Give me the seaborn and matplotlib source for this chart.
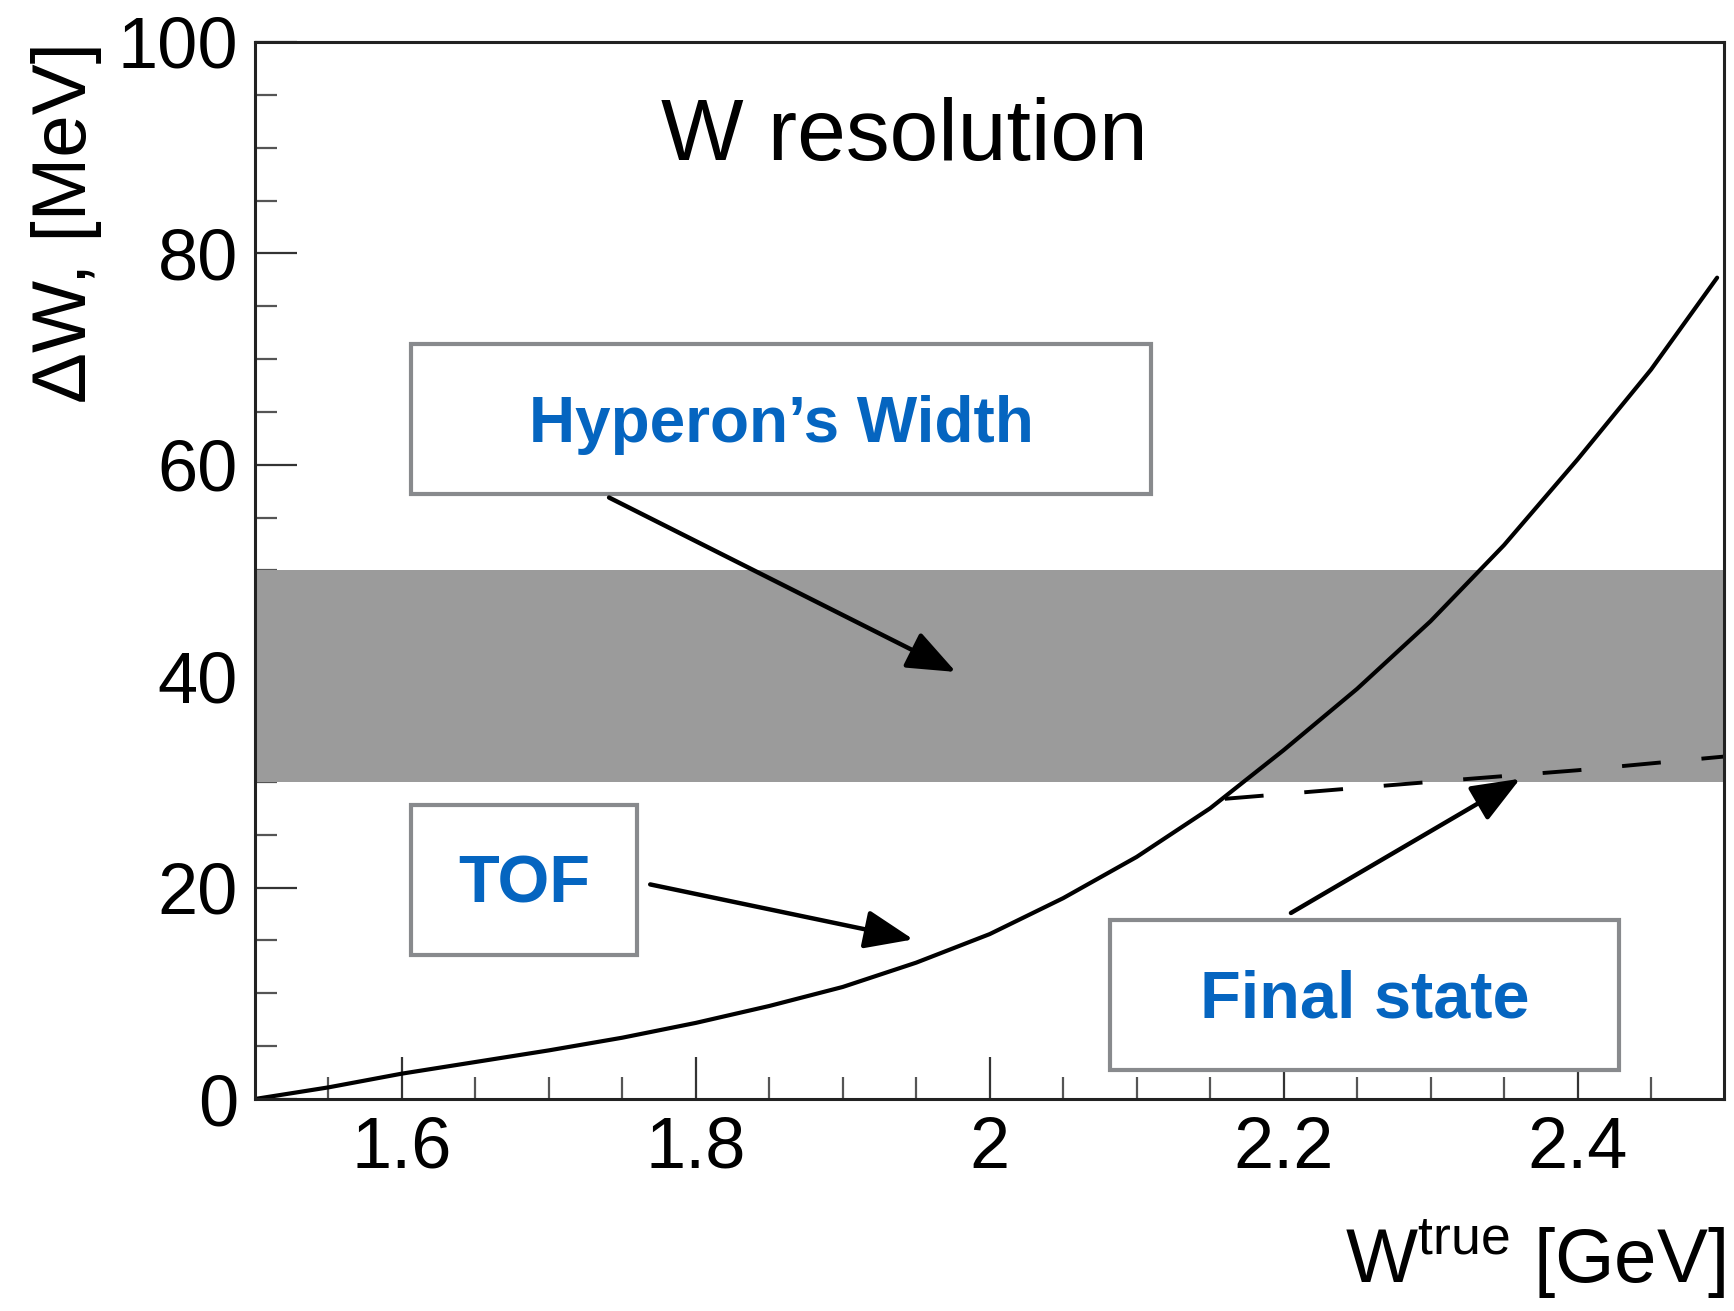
import numpy as np
import pandas as pd
import matplotlib
matplotlib.use("Agg")
import matplotlib.pyplot as plt
import seaborn as sns

# TOF resolution curve
w_tof = [1.5, 1.55, 1.6, 1.65, 1.7, 1.75, 1.8, 1.85, 1.9, 1.95, 2.0,
         2.05, 2.1, 2.15, 2.2, 2.25, 2.3, 2.35, 2.4, 2.45, 2.495]
dw_tof = [0.0, 1.1, 2.4, 3.5, 4.6, 5.8, 7.2, 8.8, 10.6, 12.9, 15.6,
          19.0, 22.9, 27.5, 33.0, 38.8, 45.2, 52.4, 60.5, 69.0, 77.7]

# final state (dashed)
w_fs = [2.16, 2.3, 2.4, 2.5]
dw_fs = [28.4, 30.0, 31.1, 32.4]

# hyperon width band
band_x = [1.5, 2.5]
band_low = [30, 30]
band_high = [50, 50]

xticks = [1.6, 1.8, 2.0, 2.2, 2.4]
xticklabels = ["1.6", "1.8", "2", "2.2", "2.4"]
yticks = [0, 20, 40, 60, 80, 100]

sns.set_theme(style="ticks")
plt.rcParams["font.family"] = ["Liberation Sans", "DejaVu Sans"]
plt.rcParams["mathtext.default"] = "regular"
plt.rcParams["text.color"] = "black"
plt.rcParams["axes.labelcolor"] = "black"
plt.rcParams["xtick.labelcolor"] = "black"
plt.rcParams["ytick.labelcolor"] = "black"

fig = plt.figure(figsize=(17.34, 13.11), dpi=100)
ax = fig.add_axes([0.147, 0.1617, 0.8475, 0.8063])

ax.fill_between(band_x, band_low, band_high, color="#9b9b9b", lw=0, zorder=1)

df_tof = pd.DataFrame({"W": w_tof, "dW": dw_tof})
sns.lineplot(data=df_tof, x="W", y="dW", ax=ax, color="black", lw=3.0, zorder=3)
df_fs = pd.DataFrame({"W": w_fs, "dW": dw_fs})
sns.lineplot(data=df_fs, x="W", y="dW", ax=ax, color="black", lw=2.8, zorder=3)
ax.lines[-1].set_dashes((10, 10.5))

ax.set_xlim(1.5, 2.5)
ax.set_ylim(0, 100)
ax.set_xticks(xticks)
ax.set_xticklabels(xticklabels)
ax.set_yticks(yticks)
ax.set_xticks(np.arange(1.55, 2.5, 0.05), minor=True)
ax.set_yticks(np.arange(5, 100, 5), minor=True)
ax.tick_params(axis="both", which="major", direction="in", length=30, width=1.6,
               color="#333333", labelsize=52, pad=12, labelcolor="black")
ax.tick_params(axis="both", which="minor", direction="in", length=16, width=1.6,
               color="#555555")
ax.tick_params(top=False, right=False, which="both")
for s in ax.spines.values():
    s.set_linewidth(2.2)
    s.set_color("#222222")
    s.set_zorder(5)

ax.set_ylabel("ΔW, [MeV]", fontsize=55, loc="top", color="black")
ax.yaxis.set_label_coords(-0.104, 1.0)
ax.set_xlabel("W$^{true}$ [GeV]", fontsize=55, loc="right", color="black")
ax.xaxis.set_label_coords(1.0, -0.112)

ax.text(1.942, 91.0, "W resolution", fontsize=63, ha="center", va="center", color="black")

blue = "#0565c0"
box_col = "#888a8d"
boxes = [
    ("Hyperon’s Width", 1.606, 2.110, 57.2, 71.4, 46, ["Liberation Sans Narrow", "Liberation Sans"]),
    ("TOF", 1.606, 1.760, 13.6, 27.8, 48, ["Liberation Sans"]),
    ("Final state", 2.082, 2.4285, 2.7, 16.9, 48, ["Liberation Sans"]),
]
for label, x0, x1, y0, y1, fs, fam in boxes:
    ax.add_patch(plt.Rectangle((x0, y0), x1 - x0, y1 - y0, facecolor="white",
                               edgecolor=box_col, lw=3, zorder=4))
    ax.text((x0 + x1) / 2, (y0 + y1) / 2 - 0.5, label, fontsize=fs, color=blue,
            fontweight="bold", family=fam, ha="center", va="center", zorder=6)

arrows = [
    ((1.741, 56.9), (1.977, 40.4)),
    ((1.769, 20.3), (1.948, 15.1)),
    ((2.205, 17.6), (2.361, 30.3)),
]
for start, end in arrows:
    ax.annotate("", xy=end, xytext=start,
                arrowprops=dict(arrowstyle="-|>,head_length=1.0,head_width=0.4",
                                color="black", lw=3.2, mutation_scale=30,
                                shrinkA=0, shrinkB=0), zorder=6)

fig.savefig("out.png", dpi=100)
